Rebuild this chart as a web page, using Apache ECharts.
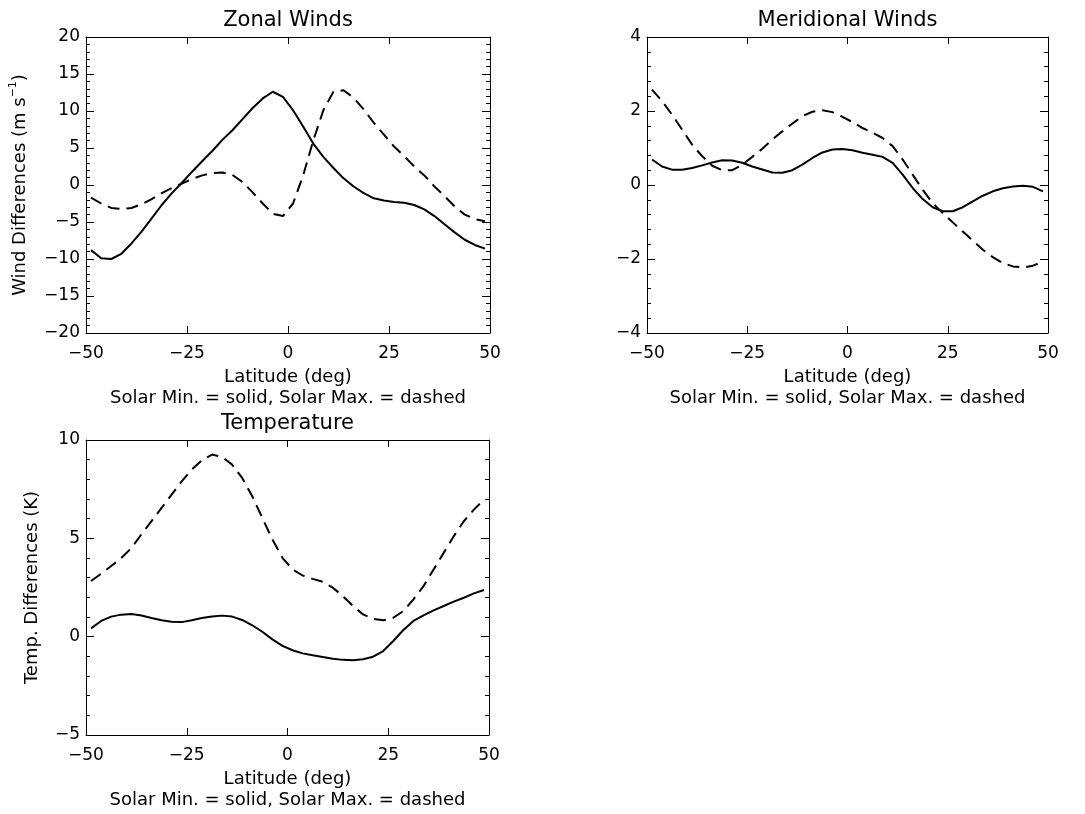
<!DOCTYPE html>
<html>
<head>
<meta charset="utf-8">
<script src="https://cdn.jsdelivr.net/npm/echarts@6/dist/echarts.min.js"></script>
<style>
html,body{margin:0;padding:0;background:#fff;}
#main{width:1085px;height:814px;}
</style>
</head>
<body>
<div id="main"></div>
<script>
// Latitude grid (deg)
const lats = [-48.75,-46.25,-43.75,-41.25,-38.75,-36.25,-33.75,-31.25,-28.75,-26.25,
              -23.75,-21.25,-18.75,-16.25,-13.75,-11.25,-8.75,-6.25,-3.75,-1.25,
              1.25,3.75,6.25,8.75,11.25,13.75,16.25,18.75,21.25,23.75,
              26.25,28.75,31.25,33.75,36.25,38.75,41.25,43.75,46.25,48.75];

// Zonal wind differences (m/s)
const zonalMin = [-8.8,-9.9,-10.0,-9.3,-7.9,-6.3,-4.5,-2.7,-1.1,0.3,
                  1.8,3.2,4.6,6.1,7.4,8.9,10.4,11.7,12.6,11.9,
                  10.1,7.9,5.6,3.8,2.3,0.9,-0.2,-1.1,-1.8,-2.1,
                  -2.3,-2.4,-2.7,-3.3,-4.2,-5.3,-6.4,-7.4,-8.1,-8.6];
const zonalMax = [-1.7,-2.5,-3.1,-3.25,-3.1,-2.6,-1.9,-1.1,-0.4,0.2,
                  0.8,1.3,1.6,1.7,1.35,0.4,-1.0,-2.5,-3.9,-4.2,
                  -2.5,1.3,6.0,10.1,12.6,12.8,11.8,10.2,8.4,6.8,
                  5.2,3.9,2.5,1.3,-0.2,-1.5,-2.9,-4.0,-4.6,-4.9];

// Meridional wind differences (m/s)
const meridMin = [0.69,0.5,0.415,0.415,0.46,0.53,0.61,0.67,0.66,0.6,
                  0.5,0.42,0.34,0.33,0.4,0.55,0.73,0.88,0.96,0.97,
                  0.94,0.87,0.82,0.76,0.6,0.28,-0.08,-0.38,-0.6,-0.71,
                  -0.71,-0.6,-0.44,-0.29,-0.17,-0.09,-0.04,-0.02,-0.05,-0.17];
const meridMax = [2.58,2.27,1.9,1.5,1.09,0.78,0.52,0.4,0.4,0.55,
                  0.76,0.98,1.23,1.45,1.66,1.86,1.98,2.02,1.97,1.84,
                  1.7,1.54,1.41,1.27,1.05,0.69,0.28,-0.13,-0.49,-0.76,
                  -1.01,-1.26,-1.5,-1.75,-1.95,-2.11,-2.2,-2.23,-2.18,-2.07];

// Temperature differences (K)
const tempMin = [0.42,0.8,1.02,1.12,1.15,1.08,0.95,0.83,0.76,0.74,
                 0.83,0.95,1.03,1.07,1.02,0.85,0.58,0.25,-0.14,-0.47,
                 -0.69,-0.85,-0.95,-1.03,-1.12,-1.18,-1.2,-1.15,-1.02,-0.73,
                 -0.22,0.34,0.8,1.08,1.34,1.56,1.78,1.98,2.2,2.37];
const tempMax = [2.83,3.2,3.59,4.0,4.5,5.2,5.87,6.55,7.22,7.9,
                 8.5,8.97,9.26,9.14,8.75,8.07,7.14,6.04,4.94,4.01,
                 3.42,3.11,2.94,2.79,2.49,2.06,1.56,1.13,0.91,0.83,
                 0.96,1.3,1.9,2.57,3.42,4.26,5.11,5.87,6.46,6.97];

const titles = ['Zonal Winds', 'Meridional Winds', 'Temperature'];
const xName = 'Latitude (deg)';
const noteText = 'Solar Min. = solid, Solar Max. = dashed';
const yNames = ['Wind Differences (m s{sup|\u22121})', '', 'Temp. Differences (K)'];
const yRanges = [[-20, 20, 5], [-4, 4, 2], [-5, 10, 5]];
const xRange = [-50, 50, 25];

const FONT = 'DejaVu Sans';
function fmt(v) { return v < 0 ? '\u2212' + Math.abs(v) : String(v); }
function pairs(xs, ys) { return xs.map((x, i) => [x, ys[i]]); }

const grids = [
  {left: 86, top: 37, width: 404, height: 296},
  {left: 647, top: 37, width: 401, height: 296},
  {left: 86, top: 440, width: 403, height: 295}
];
const yNameGaps = [54, 0, 42];

const lineAx = {show: true, onZero: false, lineStyle: {color: '#000', width: 1}};
const xAxes = [], yAxes = [];
grids.forEach((g, i) => {
  xAxes.push({
    type: 'value', gridIndex: i, position: 'bottom',
    min: xRange[0], max: xRange[1], interval: xRange[2],
    axisLine: lineAx,
    axisTick: {show: true, inside: true, length: 7, lineStyle: {color: '#000'}},
    axisLabel: {margin: 12, fontSize: 17, fontFamily: FONT, color: '#000', formatter: fmt},
    splitLine: {show: false},
    name: xName + '\n' + noteText, nameLocation: 'middle', nameGap: 34,
    nameTextStyle: {fontSize: 18, lineHeight: 21, fontFamily: FONT, color: '#000'}
  });
  xAxes.push({
    type: 'value', gridIndex: i, position: 'top',
    min: xRange[0], max: xRange[1], interval: xRange[2],
    axisLine: lineAx,
    axisTick: {show: true, inside: true, length: 7, lineStyle: {color: '#000'}},
    axisLabel: {show: false}, splitLine: {show: false},
    name: titles[i], nameLocation: 'middle', nameGap: 6,
    nameTextStyle: {fontSize: 21, fontFamily: FONT, color: '#000'}
  });
  const r = yRanges[i];
  yAxes.push({
    type: 'value', gridIndex: i, position: 'left',
    min: r[0], max: r[1], interval: r[2],
    axisLine: lineAx,
    axisTick: {show: true, inside: true, length: 8, lineStyle: {color: '#000'}},
    minorTick: {show: true, splitNumber: 5, length: 4, lineStyle: {color: '#000'}},
    axisLabel: {margin: 6, fontSize: 17, fontFamily: FONT, color: '#000', formatter: fmt},
    splitLine: {show: false},
    name: yNames[i], nameLocation: 'middle', nameGap: yNameGaps[i],
    nameTextStyle: {fontSize: 18, fontFamily: FONT, color: '#000', lineHeight: 24,
      rich: {sup: {fontSize: 11, fontFamily: FONT, color: '#000', verticalAlign: 'top', lineHeight: 12}}}
  });
  yAxes.push({
    type: 'value', gridIndex: i, position: 'right',
    min: r[0], max: r[1], interval: r[2],
    axisLine: lineAx,
    axisTick: {show: true, inside: true, length: 8, lineStyle: {color: '#000'}},
    minorTick: {show: true, splitNumber: 5, length: 4, lineStyle: {color: '#000'}},
    axisLabel: {show: false}, splitLine: {show: false}
  });
});

const seriesData = [[zonalMin, zonalMax], [meridMin, meridMax], [tempMin, tempMax]];
const series = [];
seriesData.forEach((pair, i) => {
  pair.forEach((vals, j) => {
    series.push({
      type: 'line', xAxisIndex: 2 * i, yAxisIndex: 2 * i,
      data: pairs(lats, vals), showSymbol: false, symbol: 'none',
      lineStyle: {color: '#000', width: 2, type: j === 0 ? 'solid' : [12, 7]},
      smooth: false, animation: false
    });
  });
});

const chart = echarts.init(document.getElementById('main'));
chart.setOption({
  animation: false,
  backgroundColor: '#fff',
  grid: grids,
  xAxis: xAxes,
  yAxis: yAxes,
  series: series
});
</script>
</body>
</html>
